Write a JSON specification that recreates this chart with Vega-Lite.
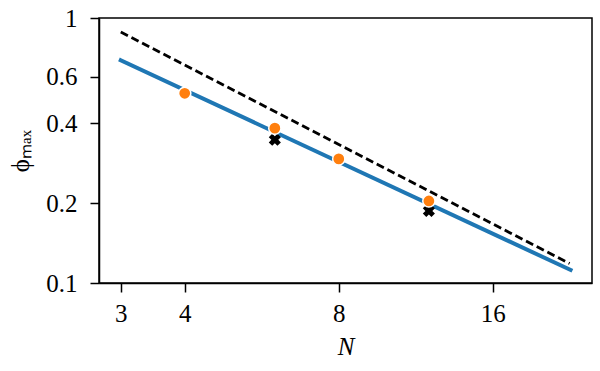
{
  "$schema": "https://vega.github.io/schema/vega-lite/v6.json",
  "width": 493,
  "height": 265,
  "autosize": "none",
  "padding": {"left": 99, "top": 18, "right": 8, "bottom": 88},
  "background": "white",
  "config": {
    "view": {"stroke": "black", "strokeWidth": 1.5},
    "axis": {
      "domainColor": "black", "domainWidth": 1.5,
      "tickColor": "black", "tickWidth": 1.5, "tickSize": 9,
      "labelFont": "Liberation Serif", "labelFontSize": 25, "labelColor": "black",
      "titleFont": "Liberation Serif", "titleFontSize": 25, "titleColor": "black",
      "titleFontWeight": "normal", "grid": false
    }
  },
  "datasets": {
    "fit": [{"N": 3, "phi": 0.693}, {"N": 22.7, "phi": 0.112}],
    "bound": [{"N": 3, "phi": 0.885}, {"N": 22.6, "phi": 0.1184}],
    "sim": [{"N": 4, "phi": 0.52}, {"N": 6, "phi": 0.384}, {"N": 8, "phi": 0.294}, {"N": 12, "phi": 0.204}],
    "other": [{"N": 6, "phi": 0.347}, {"N": 12, "phi": 0.187}]
  },
  "encoding": {
    "x": {"field": "N", "type": "quantitative",
      "scale": {"type": "log", "domain": [2.72, 25], "nice": false},
      "axis": {"values": [3, 4, 8, 16], "format": "~g", "labelPadding": 9, "title": "N", "titleFontStyle": "italic", "titlePadding": 8, "labelFlush": false}},
    "y": {"field": "phi", "type": "quantitative",
      "scale": {"type": "log", "domain": [0.1, 1], "nice": false},
      "axis": {"values": [0.1, 0.2, 0.4, 0.6, 1], "format": "~g", "labelPadding": 13, "title": "ϕₘₐₓ", "titlePadding": 12, "labelFlush": false}}
  },
  "layer": [
    {"data": {"name": "fit"}, "mark": {"type": "line", "color": "#1f77b4", "strokeWidth": 4, "strokeCap": "square"}},
    {"data": {"name": "bound"}, "mark": {"type": "line", "color": "black", "strokeWidth": 2.8, "strokeDash": [8, 4]}},
    {"data": {"name": "other"}, "mark": {"type": "point", "shape": "cross", "angle": 45, "filled": true, "color": "black", "size": 150, "opacity": 1}},
    {"data": {"name": "sim"}, "mark": {"type": "point", "shape": "circle", "filled": true, "fill": "#ff7f0e", "stroke": "white", "strokeWidth": 1.5, "size": 150, "opacity": 1}}
  ]
}
